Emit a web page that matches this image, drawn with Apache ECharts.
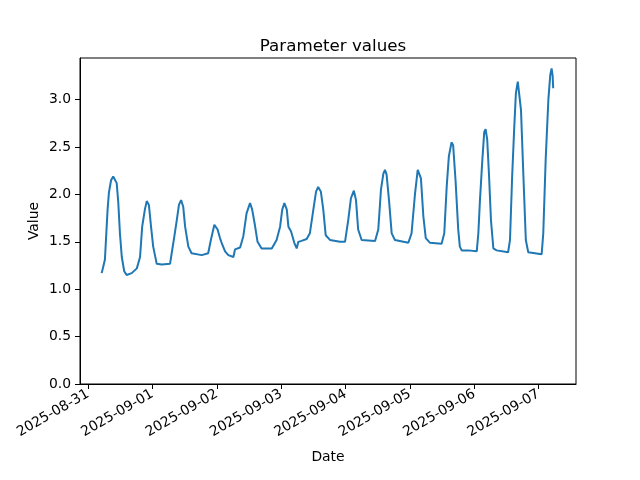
<!DOCTYPE html>
<html>
<head>
<meta charset="utf-8">
<script src="https://cdn.jsdelivr.net/npm/echarts@6/dist/echarts.min.js"></script>
<style>html,body{margin:0;padding:0;background:#fff}#c{width:640px;height:480px}</style>
</head>
<body>
<div id="c"></div>
<script>
// hours since 2025-08-31 00:00 (local)
var hours = [5.1,5.7,6.3,7.3,7.8,8.6,9.4,10.1,10.7,11.3,11.9,12.6,13.5,14.4,16.3,18.2,19.4,20.2,21.2,21.9,22.7,23.5,24.3,25.6,27.5,30.6,31.2,32.2,33.1,33.9,34.7,35.5,36.2,37.4,38.6,42.4,44.8,45.8,47.1,48.3,49.2,49.8,51.1,52.3,54.2,54.8,56.7,57.9,59.1,60.4,61.2,62.2,63.2,64.7,68.5,70.3,71.6,72.4,73.2,74.1,74.7,75.7,76.9,77.8,78.4,79.6,81.5,82.7,84.0,85.0,85.8,86.8,87.7,88.6,90.2,93.9,95.8,97.0,98.0,99.1,99.9,100.7,102.0,107.0,108.2,109.2,110.1,110.7,111.3,112.2,113.2,114.4,119.4,120.6,121.9,122.9,123.4,124.1,125.0,125.9,127.5,131.8,132.8,133.7,134.5,135.5,136.1,137.0,138.0,138.6,139.3,141.7,144.9,145.5,146.1,147.0,147.7,148.2,148.8,149.5,150.2,151.1,152.3,156.6,157.3,158.1,158.9,159.5,160.2,160.7,161.4,162.3,163.2,164.1,169.1,169.7,170.6,171.6,172.3,172.8,173.2,173.4];
var values = [1.17,1.24,1.31,1.84,2.02,2.15,2.19,2.17,2.12,1.91,1.59,1.34,1.19,1.15,1.17,1.22,1.34,1.66,1.84,1.93,1.89,1.66,1.45,1.27,1.26,1.27,1.38,1.56,1.73,1.89,1.94,1.87,1.66,1.45,1.38,1.36,1.38,1.52,1.68,1.63,1.54,1.49,1.40,1.36,1.34,1.42,1.44,1.56,1.80,1.91,1.84,1.68,1.50,1.43,1.43,1.52,1.66,1.84,1.91,1.84,1.66,1.61,1.49,1.43,1.50,1.51,1.53,1.59,1.84,2.03,2.08,2.03,1.84,1.57,1.52,1.50,1.50,1.73,1.96,2.04,1.94,1.63,1.52,1.51,1.63,2.05,2.22,2.26,2.21,1.94,1.59,1.52,1.49,1.59,2.01,2.26,2.28,2.17,1.77,1.54,1.49,1.48,1.59,2.08,2.40,2.55,2.52,2.15,1.63,1.45,1.41,1.41,1.40,1.59,1.94,2.37,2.66,2.69,2.58,2.19,1.73,1.43,1.41,1.39,1.52,2.19,2.72,3.07,3.19,3.17,2.89,2.19,1.52,1.39,1.37,1.59,2.37,3.00,3.26,3.33,3.25,3.12];
var tickDays = ['2025-08-31','2025-09-01','2025-09-02','2025-09-03','2025-09-04','2025-09-05','2025-09-06','2025-09-07'];
var yTicks = [0, 0.5, 1.0, 1.5, 2.0, 2.5, 3.0];

var H = 3600 * 1000;
var t0 = new Date(2025, 7, 31, 0, 0, 0).getTime();
var seriesData = hours.map(function (h, i) { return [t0 + h * H, values[i]]; });
var tickValues = tickDays.map(function (d) { var p = d.split('-'); return new Date(+p[0], +p[1] - 1, +p[2]).getTime(); });
function fmtDay(v) {
  var d = new Date(v);
  var m = d.getMonth() + 1, dd = d.getDate();
  return d.getFullYear() + '-' + (m < 10 ? '0' : '') + m + '-' + (dd < 10 ? '0' : '') + dd;
}

var chart = echarts.init(document.getElementById('c'), null, { renderer: 'canvas' });
var font = 'DejaVu Sans';
chart.setOption({
  animation: false,
  backgroundColor: '#ffffff',
  title: {
    text: 'Parameter values',
    left: 328, top: 33, textAlign: 'center',
    textStyle: { fontFamily: font, fontSize: 16.7, fontWeight: 'normal', color: '#000' }
  },
  grid: { left: 80, right: 64, top: 58, bottom: 96, show: true, borderColor: '#000', borderWidth: 1, backgroundColor: 'transparent' },
  xAxis: {
    type: 'value',
    min: t0 - 2.98 * H,
    max: t0 + 181.9 * H,
    scale: true,
    name: 'Date', nameLocation: 'middle', nameGap: 66,
    nameTextStyle: { fontFamily: font, fontSize: 13.9, color: '#000' },
    axisLine: { show: true, onZero: false, lineStyle: { color: '#000', width: 1 } },
    axisTick: { show: true, inside: false, length: 5, lineStyle: { color: '#000' }, customValues: tickValues },
    axisLabel: { show: true, rotate: 30, margin: 9, fontFamily: font, fontSize: 13.9, color: '#000', customValues: tickValues, formatter: function (v) { return fmtDay(v); } },
    splitLine: { show: false }
  },
  yAxis: {
    type: 'value',
    min: 0, max: 3.44,
    name: 'Value', nameLocation: 'middle', nameGap: 39, nameMoveOverlap: false,
    nameTextStyle: { fontFamily: font, fontSize: 13.9, color: '#000' },
    axisLine: { show: true, lineStyle: { color: '#000', width: 1 } },
    axisTick: { show: true, inside: false, length: 5, lineStyle: { color: '#000' }, customValues: yTicks },
    axisLabel: { show: true, margin: 9, fontFamily: font, fontSize: 13.9, color: '#000', customValues: yTicks, formatter: function (v) { return (+v).toFixed(1); } },
    splitLine: { show: false }
  },
  series: [{
    type: 'line',
    data: seriesData,
    showSymbol: false,
    symbol: 'none',
    lineStyle: { color: '#1f77b4', width: 2 },
    itemStyle: { color: '#1f77b4' }
  }]
});
</script>
</body>
</html>
